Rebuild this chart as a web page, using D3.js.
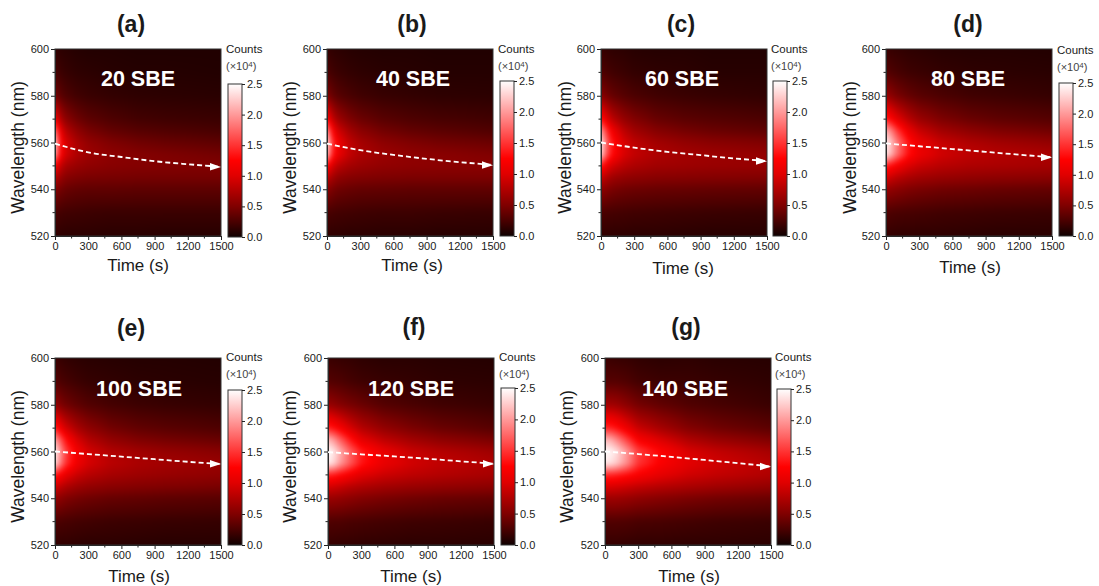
<!DOCTYPE html>
<html><head><meta charset="utf-8">
<script src="https://cdn.jsdelivr.net/npm/d3@7"></script>
<style>html,body{margin:0;padding:0;background:#fff}svg{display:block;opacity:.999}text{font-family:"Liberation Sans",Arial,sans-serif;fill:#1a1a1a}</style>
</head><body><div id="chart"></div>
<script>
const timeGrid=[0,50,100,200,300,500,750,1000,1500];
const waveGrid=[520,530,540,545,550,555,560,565,570,580,590,600];
const timeTicks=[0,300,600,900,1200,1500];
const waveTicks=[520,540,560,580,600];
const countTicks=[0,0.5,1,1.5,2,2.5];
const colorStops=[0,0.25,0.5,1,1.25,1.875,2.5];
const colorValues=["#100000","#4a0000","#800000","#e00000","#ff0000","#ff8080","#ffffff"];
const panelLetters=["(a)","(b)","(c)","(d)","(e)","(f)","(g)"];
const panelNames=["20 SBE","40 SBE","60 SBE","80 SBE","100 SBE","120 SBE","140 SBE"];
const peakTimes=[0,300,600,900,1200,1500];
const peakA=[559.5,555.8,553.8,552,550.7,549.5];
const peakB=[559.5,556.7,554.7,553,551.6,550.3];
const peakC=[560,557.8,556,554.6,553.2,552];
const peakD=[559.6,558.4,557.2,556,554.8,553.6];
const peakE=[560,558.9,557.8,556.7,555.6,554.6];
const peakF=[559.7,558.8,557.9,556.9,555.8,554.7];
const peakG=[560,558.9,557.7,556.4,555,553.5];
const countsA=[
[.14,.13,.12,.12,.12,.11,.11,.1,.1],
[.25,.22,.21,.2,.19,.18,.18,.18,.18],
[.52,.44,.39,.36,.35,.35,.34,.34,.34],
[.78,.62,.53,.49,.47,.46,.45,.45,.45],
[1.18,.85,.7,.62,.58,.54,.52,.51,.5],
[2.05,1.2,.92,.74,.65,.57,.52,.49,.44],
[2.25,1.28,.95,.72,.6,.5,.43,.39,.34],
[1.8,1.08,.78,.58,.47,.37,.31,.28,.24],
[1.15,.75,.56,.42,.34,.27,.22,.2,.18],
[.45,.33,.27,.21,.18,.15,.13,.12,.11],
[.24,.19,.16,.13,.12,.1,.09,.09,.08],
[.15,.12,.11,.09,.08,.08,.07,.07,.07]];
const countsB=[
[.14,.13,.13,.12,.12,.11,.11,.1,.1],
[.25,.23,.22,.21,.2,.19,.19,.18,.17],
[.55,.47,.42,.39,.37,.36,.35,.35,.35],
[.82,.68,.58,.53,.51,.49,.48,.48,.48],
[1.25,.95,.8,.69,.64,.59,.57,.56,.55],
[2.15,1.4,1.08,.85,.73,.64,.58,.55,.5],
[2.35,1.5,1.12,.84,.7,.57,.5,.45,.4],
[1.9,1.25,.92,.69,.56,.44,.37,.33,.28],
[1.25,.86,.66,.5,.41,.32,.27,.24,.21],
[.5,.38,.31,.25,.21,.17,.15,.13,.12],
[.26,.21,.18,.15,.13,.11,.1,.09,.09],
[.16,.13,.12,.1,.09,.08,.08,.07,.07]];
const countsC=[
[.14,.14,.13,.13,.12,.12,.11,.1,.1],
[.26,.24,.23,.22,.21,.2,.19,.18,.17],
[.58,.52,.47,.43,.41,.39,.38,.37,.36],
[.88,.75,.66,.6,.57,.54,.53,.52,.51],
[1.35,1.08,.93,.8,.73,.67,.65,.63,.62],
[2.3,1.65,1.3,.98,.85,.74,.68,.65,.6],
[2.4,1.75,1.35,.98,.82,.68,.6,.55,.5],
[2.0,1.5,1.15,.83,.67,.53,.45,.4,.35],
[1.32,1.03,.82,.62,.51,.39,.33,.3,.26],
[.55,.45,.38,.31,.26,.21,.18,.16,.14],
[.28,.24,.21,.18,.15,.13,.12,.1,.1],
[.17,.15,.13,.12,.1,.09,.09,.08,.08]];
const countsD=[
[.15,.15,.14,.14,.13,.13,.12,.11,.11],
[.28,.26,.25,.24,.23,.21,.2,.19,.18],
[.62,.58,.55,.5,.47,.43,.41,.39,.37],
[.95,.87,.8,.72,.67,.62,.59,.57,.55],
[1.4,1.28,1.15,.98,.88,.79,.74,.72,.69],
[2.38,2.1,1.78,1.32,1.1,.92,.82,.77,.72],
[2.45,2.18,1.85,1.35,1.08,.87,.75,.68,.6],
[2.1,1.85,1.52,1.1,.88,.68,.57,.5,.43],
[1.4,1.22,1.04,.8,.64,.49,.4,.35,.3],
[.62,.55,.47,.38,.32,.26,.21,.19,.16],
[.3,.27,.24,.2,.18,.15,.13,.12,.11],
[.18,.16,.15,.13,.12,.1,.09,.09,.08]];
const countsE=[
[.15,.14,.14,.13,.12,.12,.11,.1,.1],
[.27,.25,.24,.22,.21,.19,.18,.17,.16],
[.6,.55,.5,.45,.42,.38,.36,.34,.32],
[.92,.82,.74,.65,.6,.55,.52,.5,.47],
[1.38,1.2,1.05,.88,.79,.7,.65,.62,.58],
[2.35,1.85,1.48,1.12,.95,.8,.72,.68,.62],
[2.45,1.95,1.55,1.15,.94,.76,.67,.61,.54],
[2.05,1.65,1.3,.96,.77,.6,.5,.45,.39],
[1.4,1.13,.93,.71,.58,.44,.36,.32,.27],
[.6,.5,.43,.35,.29,.23,.19,.17,.15],
[.3,.26,.23,.19,.16,.14,.12,.11,.1],
[.18,.16,.14,.12,.11,.1,.09,.09,.08]];
const countsF=[
[.16,.16,.15,.15,.14,.13,.12,.12,.11],
[.28,.27,.27,.25,.24,.22,.2,.19,.17],
[.63,.62,.6,.56,.52,.47,.43,.4,.37],
[.95,.92,.88,.8,.75,.68,.63,.6,.56],
[1.42,1.38,1.3,1.15,1.02,.9,.82,.77,.7],
[2.4,2.3,2.05,1.68,1.35,1.08,.93,.84,.74],
[2.5,2.38,2.15,1.72,1.38,1.08,.88,.78,.66],
[2.15,2.0,1.75,1.35,1.05,.83,.68,.58,.47],
[1.42,1.32,1.2,.96,.78,.6,.48,.4,.31],
[.62,.58,.53,.46,.4,.3,.25,.21,.17],
[.3,.28,.27,.23,.2,.17,.15,.13,.12],
[.18,.17,.16,.15,.13,.11,.11,.1,.09]];
const countsG=[
[.16,.16,.16,.15,.14,.14,.13,.13,.12],
[.28,.28,.28,.27,.25,.24,.22,.2,.18],
[.65,.65,.65,.62,.58,.53,.48,.44,.4],
[.98,.97,.95,.9,.85,.78,.72,.67,.6],
[1.45,1.43,1.4,1.3,1.2,1.05,.92,.85,.75],
[2.38,2.35,2.25,1.92,1.5,1.22,1.03,.92,.78],
[2.5,2.45,2.35,1.98,1.55,1.25,.97,.85,.7],
[2.15,2.1,1.92,1.55,1.2,.98,.75,.63,.5],
[1.45,1.42,1.33,1.1,.88,.7,.52,.43,.33],
[.68,.67,.65,.55,.45,.36,.28,.24,.18],
[.3,.3,.3,.27,.22,.19,.18,.16,.13],
[.18,.18,.17,.16,.14,.12,.13,.11,.1]];
const allCounts=[countsA,countsB,countsC,countsD,countsE,countsF,countsG];
const allPeaks=[peakA,peakB,peakC,peakD,peakE,peakF,peakG];

// layout of each panel on the page
const layout=[
{x:55,y:49,bx:228,bt:84,bb:237,tx:131,ty:24,nx:138,ny:78,lx:138,ly:265,wx:18,cy:49},
{x:327,y:49,bx:500,bt:81,bb:236,tx:412,ty:24,nx:413,ny:78,lx:412,ly:265,wx:290,cy:49},
{x:601,y:49,bx:773,bt:81,bb:236,tx:681,ty:24,nx:682,ny:78,lx:683,ly:268,wx:565,cy:49},
{x:886,y:49,bx:1059,bt:83,bb:236,tx:968,ty:24,nx:968,ny:78,lx:970,ly:267,wx:850,cy:50},
{x:55,y:358,bx:228,bt:390,bb:545,tx:131,ty:328,nx:139,ny:388,lx:139,ly:576,wx:18,cy:357},
{x:328,y:358,bx:501,bt:388,bb:545,tx:414,ty:327,nx:411,ny:388,lx:411,ly:576,wx:290,cy:357},
{x:605,y:358,bx:777,bt:389,bb:545,tx:686,ty:327,nx:685,ny:388,lx:689,ly:576,wx:567,cy:357}];
const plotW=166,plotH=187,barW=14,pad=8,axisColor="#222";

const color=d3.scaleLinear().domain(colorStops).range(colorValues).clamp(true);
const svg=d3.select("#chart").append("svg").attr("width",1099).attr("height",586);
const defs=svg.append("defs");
const gid="cbGrad";
const grad=defs.append("linearGradient").attr("id",gid).attr("x1",0).attr("x2",0).attr("y1",1).attr("y2",0);
colorStops.forEach(v=>grad.append("stop").attr("offset",v/2.5).attr("stop-color",color(v)));

const ti=d3.scaleLinear().domain(timeGrid).range(timeGrid.map((_,i)=>i)).clamp(true);
const wi=d3.scaleLinear().domain(waveGrid).range(waveGrid.map((_,i)=>i)).clamp(true);

function heatImage(grid,xs,ys){
  const W=plotW+2*pad,H=plotH+2*pad;
  const c=document.createElement("canvas");c.width=W;c.height=H;
  const ctx=c.getContext("2d"),img=ctx.createImageData(W,H);
  for(let py=0;py<H;py++){
    const fy=wi(ys.invert(py-pad+.5)),j=Math.min(Math.floor(fy),waveGrid.length-2),dy=fy-j;
    for(let px=0;px<W;px++){
      const fx=ti(xs.invert(px-pad+.5)),i=Math.min(Math.floor(fx),timeGrid.length-2),dx=fx-i;
      const v=d3.interpolateNumber(
        d3.interpolateNumber(grid[j][i],grid[j][i+1])(dx),
        d3.interpolateNumber(grid[j+1][i],grid[j+1][i+1])(dx))(dy);
      const rgb=d3.rgb(color(v)),k=(py*W+px)*4;
      img.data[k]=rgb.r;img.data[k+1]=rgb.g;img.data[k+2]=rgb.b;img.data[k+3]=255;
    }
  }
  ctx.putImageData(img,0,0);
  const o=document.createElement("canvas");o.width=plotW;o.height=plotH;
  const octx=o.getContext("2d");
  octx.filter="blur(2px)";
  octx.drawImage(c,-pad,-pad);
  return o.toDataURL();
}

function styleAxis(g){
  g.selectAll("path.domain").attr("stroke",axisColor);
  g.selectAll("line").attr("stroke",axisColor);
  g.selectAll("text").attr("font-size",11).attr("font-family",'"Liberation Sans",Arial,sans-serif').attr("fill","#1a1a1a");
}

layout.forEach((p,n)=>{
  const xs=d3.scaleLinear().domain([0,1500]).range([0,plotW]);
  const ys=d3.scaleLinear().domain([520,600]).range([plotH,0]);
  const g=svg.append("g").attr("transform",`translate(${p.x},${p.y})`);
  g.append("image").attr("width",plotW).attr("height",plotH).attr("preserveAspectRatio","none")
    .attr("href",heatImage(allCounts[n],xs,ys));
  const minorX=d3.range(150,1500,300), minorY=d3.range(530,600,20);
  g.selectAll(".mx").data(minorX).join("line").attr("x1",xs).attr("x2",xs).attr("y1",plotH).attr("y2",plotH+2.5).attr("stroke",axisColor);
  g.selectAll(".my").data(minorY).join("line").attr("y1",ys).attr("y2",ys).attr("x1",0).attr("x2",-2.5).attr("stroke",axisColor);
  const ax=g.append("g").attr("transform",`translate(0,${plotH})`).call(d3.axisBottom(xs).tickValues(timeTicks).tickFormat(d3.format("d")).tickSize(4).tickPadding(2).tickSizeOuter(0));
  styleAxis(ax);
  const ay=g.append("g").call(d3.axisLeft(ys).tickValues(waveTicks).tickFormat(d3.format("d")).tickSize(4).tickPadding(2).tickSizeOuter(0));
  styleAxis(ay);
  g.append("rect").attr("width",plotW).attr("height",plotH).attr("fill","none").attr("stroke","#333");
  const line=d3.line().x((d,i)=>xs(peakTimes[i])).y(d=>ys(d)).curve(d3.curveMonotoneX);
  const pk=allPeaks[n];
  g.append("path").attr("d",line(pk.map((d,i)=>i==pk.length-1?pk[i-1]+(d-pk[i-1])*0.93:d)))
    .attr("fill","none").attr("stroke","#fff").attr("stroke-width",1.8).attr("stroke-dasharray","5 3");
  const ex=xs(1500),ey=ys(pk[pk.length-1]);
  g.append("path").attr("d",d3.line()([[ex,ey],[ex-11,ey-4],[ex-11,ey+3.5]])+"Z").attr("fill","#fff");
  g.append("text").attr("x",p.nx-p.x).attr("y",p.ny-p.y).attr("text-anchor","middle").attr("dy",".36em")
    .attr("font-size",21.5).attr("font-weight","bold").style("fill","#fff").text(panelNames[n]);
  const cs=d3.scaleLinear().domain([0,2.5]).range([p.bb,p.bt]);
  svg.append("rect").attr("x",p.bx).attr("y",p.bt).attr("width",barW).attr("height",p.bb-p.bt)
    .attr("fill",`url(#${gid})`).attr("stroke","#333");
  const ac=svg.append("g").attr("transform",`translate(${p.bx+barW},0)`).call(d3.axisRight(cs).tickValues(countTicks).tickFormat(d3.format(".1f")).tickSize(3).tickPadding(2).tickSizeOuter(0));
  ac.select("path.domain").remove();
  styleAxis(ac);
  svg.append("text").attr("x",p.bx-2).attr("y",p.cy).attr("dy",".36em").attr("font-size",11.5).text("Counts");
  const t2=svg.append("text").attr("x",p.bx-2).attr("y",p.cy+17).attr("dy",".36em").attr("font-size",11).style("fill","#444");
  t2.append("tspan").text("(×10");
  t2.append("tspan").attr("dy","-.4em").attr("font-size",8).text("4");
  t2.append("tspan").attr("dy",".3em").text(")");
  svg.append("text").attr("x",p.tx).attr("y",p.ty).attr("dy",".36em").attr("text-anchor","middle").attr("font-size",23).attr("font-weight","bold").text(panelLetters[n]);
  svg.append("text").attr("x",p.lx).attr("y",p.ly).attr("dy",".36em").attr("text-anchor","middle").attr("font-size",17).text("Time (s)");
  svg.append("text").attr("transform",`translate(${p.wx},${p.y+plotH/2+5}) rotate(-90)`).attr("dy",".36em").attr("text-anchor","middle").attr("font-size",17.5).text("Wavelength (nm)");
});
</script></body></html>
